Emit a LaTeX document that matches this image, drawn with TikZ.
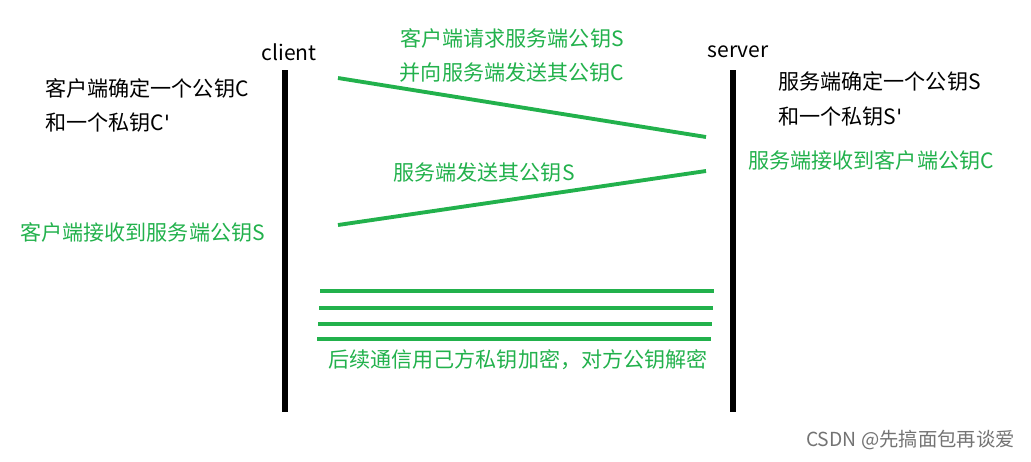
\documentclass[tikz,border=0pt]{standalone}
\usepackage{fontspec}
\setmainfont{Noto Sans CJK SC}[Ligatures=ResetAll]
\newfontfamily\primefont{DejaVu Sans}[Ligatures=ResetAll]
\newcommand{\straightprime}{{\primefont\char"0027}}
\usepackage{xcolor}
\usepackage{tikz}
\definecolor{msggreen}{HTML}{22B14C}
\tikzset{
    lifeline/.style={line width=3pt, black},
    msgline/.style={line width=2.2pt, msggreen},
    msgtext/.style={font=\fontsize{12}{14}\selectfont, text=msggreen, inner sep=0pt},
    notetext/.style={font=\fontsize{12}{14}\selectfont, inner sep=0pt, anchor=west},
}

\begin{document}
\begin{tikzpicture}[x=0.02cm, y=-0.02cm]
        \useasboundingbox (0,0) rectangle (1031,461);

        \node[notetext, anchor=center] (client) at (289, 52) {client};
        \node[notetext, anchor=center] (server) at (738, 52) {server};

        \coordinate (clienttop) at (285, 70);
        \coordinate (clientbot) at (285, 412);
        \coordinate (servertop) at (733, 70);
        \coordinate (serverbot) at (733, 412);
        \draw[lifeline] (clienttop) -- (clientbot);
        \draw[lifeline] (servertop) -- (serverbot);

        \node[notetext] (cnote1) at (45, 88) {客户端确定一个公钥C};
        \node[notetext] (cnote2) at (45, 123) {和一个私钥C\straightprime};
        \node[notetext] (snote1) at (778, 81) {服务端确定一个公钥S};
        \node[notetext] (snote2) at (778, 117) {和一个私钥S\straightprime};

        \node[msgtext] (req1) at (512, 38) {客户端请求服务端公钥S};
        \node[msgtext] (req2) at (512, 73) {并向服务端发送其公钥C};
        \coordinate (reqfrom) at (338, 78);
        \coordinate (reqto) at (706, 137);
        \draw[msgline] (reqfrom) -- (reqto);
        \node[msgtext, anchor=west] (sgot) at (748, 160) {服务端接收到客户端公钥C};

        \node[msgtext] (resp) at (484, 172) {服务端发送其公钥S};
        \coordinate (respfrom) at (706, 171);
        \coordinate (respto) at (338, 225);
        \draw[msgline] (respfrom) -- (respto);
        \node[msgtext, anchor=west] (cgot) at (20, 232) {客户端接收到服务端公钥S};

        \coordinate (ca) at (320, 291); \coordinate (sa) at (714, 291);
        \coordinate (cb) at (319, 308); \coordinate (sb) at (713, 308);
        \coordinate (cc) at (318, 324); \coordinate (sc) at (712, 324);
        \coordinate (cd) at (317, 339); \coordinate (sd) at (711, 339);
        \draw[msgline] (ca) -- (sa);
        \draw[msgline] (cb) -- (sb);
        \draw[msgline] (cc) -- (sc);
        \draw[msgline] (cd) -- (sd);
        \node[msgtext] (after) at (518, 360) {后续通信用己方私钥加密，对方公钥解密};

        \node[inner sep=0pt, anchor=east, text=black!55, font=\fontsize{11}{13}\selectfont] (mark) at (1015, 440) {CSDN @先搞面包再谈爱};
    \end{tikzpicture}
\end{document}
